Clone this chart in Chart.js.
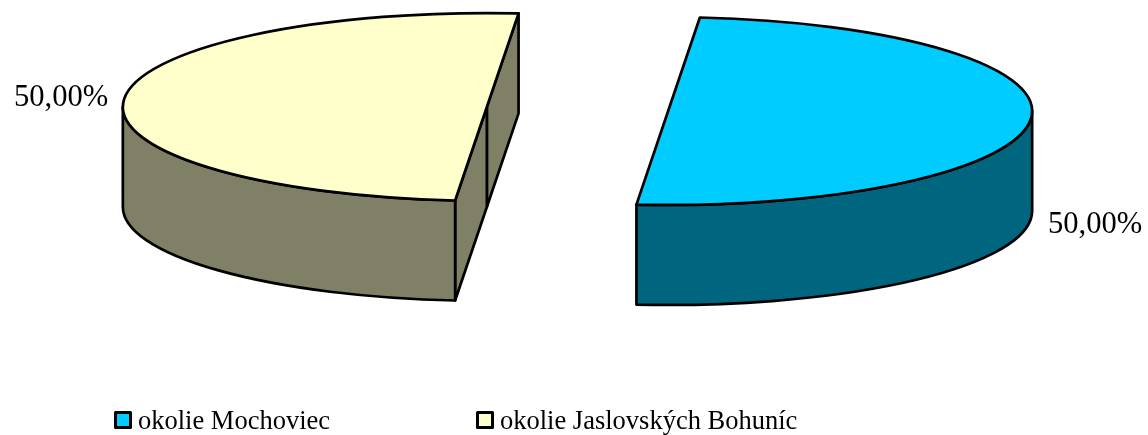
<!DOCTYPE html>
<html>
<head>
<meta charset="utf-8">
<title>okolie</title>
<style>
  html, body { margin: 0; padding: 0; background: #fff; }
  canvas { display: block; }
</style>
</head>
<body>
<canvas id="pie" width="1148" height="435"></canvas>
<script src="https://cdn.jsdelivr.net/npm/chart.js@4/dist/chart.umd.min.js"></script>
<script>
const categories = ['okolie Mochoviec', 'okolie Jaslovských Bohuníc'];
const shares = [50, 50];
const topColors = ['#00CCFF', '#FFFFCC'];
const sideColors = ['#006680', '#808066'];

const tilt = 0.258;      // flattening of the pie
const depth = 100;       // wall height
const explode = 91;      // how far each slice is pulled out
const pieCenterY = 109;
const outline = 2.7;
const serif = '"Liberation Serif", "Times New Roman", serif';

function shareText(v) {
  return v.toFixed(2).replace('.', ',') + '%';
}

// the slice in screen coords, after explode and tilt
function sliceGeom(arc) {
  const p = arc.getProps(['x', 'y', 'startAngle', 'endAngle', 'outerRadius'], true);
  return {
    cx: p.x,
    cy: pieCenterY + (p.y - pieCenterY) * tilt,
    r: p.outerRadius,
    a0: p.startAngle,
    a1: p.endAngle
  };
}

function rim(g, a) {
  return { x: g.cx + Math.cos(a) * g.r, y: g.cy + Math.sin(a) * g.r * tilt };
}

function drawWalls(ctx, g, color) {
  ctx.fillStyle = color;
  ctx.strokeStyle = '#000';
  ctx.lineWidth = outline;
  ctx.lineJoin = 'round';

  // flat cut faces, only the ones turned towards the viewer
  [[g.a1, g.a1 + Math.PI / 2], [g.a0, g.a0 - Math.PI / 2]].forEach(function (f) {
    if (Math.sin(f[1]) <= 0) return;
    const e = rim(g, f[0]);
    ctx.beginPath();
    ctx.moveTo(g.cx, g.cy);
    ctx.lineTo(e.x, e.y);
    ctx.lineTo(e.x, e.y + depth);
    ctx.lineTo(g.cx, g.cy + depth);
    ctx.closePath();
    ctx.fill();
    ctx.stroke();
  });

  // round outer wall, front half of the ellipse only
  for (let k = -1; k <= 1; k++) {
    const from = Math.max(g.a0, 2 * k * Math.PI);
    const to = Math.min(g.a1, 2 * k * Math.PI + Math.PI);
    if (to <= from) continue;
    ctx.beginPath();
    ctx.ellipse(g.cx, g.cy, g.r, g.r * tilt, 0, from, to);
    ctx.ellipse(g.cx, g.cy + depth, g.r, g.r * tilt, 0, to, from, true);
    ctx.closePath();
    ctx.fill();
    ctx.stroke();
  }
}

const tiltedPie = {
  id: 'tiltedPie',
  // the arc's own offset option also grows the radius, so move the elements instead
  afterDatasetsUpdate(chart) {
    chart.getDatasetMeta(0).data.forEach(function (arc) {
      const mid = (arc.startAngle + arc.endAngle) / 2;
      arc.x += Math.cos(mid) * explode;
      arc.y += Math.sin(mid) * explode;
    });
  },
  beforeDatasetsDraw(chart) {
    const ctx = chart.ctx;
    chart.getDatasetMeta(0).data.forEach(function (arc, i) {
      drawWalls(ctx, sliceGeom(arc), sideColors[i]);
    });
    ctx.save();
    ctx.translate(0, pieCenterY);
    ctx.scale(1, tilt);
    ctx.translate(0, -pieCenterY);
  },
  afterDatasetsDraw(chart) {
    const ctx = chart.ctx;
    ctx.restore();
    // outlines here, a stroke inside the squashed ctx would go thin at top and bottom
    chart.getDatasetMeta(0).data.forEach(function (arc) {
      const g = sliceGeom(arc);
      ctx.beginPath();
      ctx.moveTo(g.cx, g.cy);
      ctx.ellipse(g.cx, g.cy, g.r, g.r * tilt, 0, g.a0, g.a1);
      ctx.closePath();
      ctx.strokeStyle = '#000';
      ctx.lineWidth = outline;
      ctx.lineJoin = 'round';
      ctx.stroke();
    });
  },
  afterDraw(chart) {
    const ctx = chart.ctx;
    ctx.save();
    ctx.fillStyle = '#000';
    ctx.textBaseline = 'alphabetic';

    // percent labels
    ctx.font = '30.6px ' + serif;
    const labelSpots = [{ x: 1048, y: 233 }, { x: 14, y: 106 }];
    shares.forEach(function (v, i) {
      ctx.fillText(shareText(v), labelSpots[i].x, labelSpots[i].y);
    });

    // legend
    const legendX = [114, 476];
    ctx.font = '26.5px ' + serif;
    categories.forEach(function (name, i) {
      ctx.fillStyle = topColors[i];
      ctx.strokeStyle = '#000';
      ctx.lineWidth = 3;
      ctx.fillRect(legendX[i] + 1.5, 412.5, 15, 15);
      ctx.strokeRect(legendX[i] + 1.5, 412.5, 15, 15);
      ctx.fillStyle = '#000';
      ctx.fillText(name, legendX[i] + 24, 429);
    });
    ctx.restore();
  }
};

new Chart(document.getElementById('pie'), {
  type: 'pie',
  data: {
    labels: categories,
    datasets: [{
      data: shares,
      backgroundColor: topColors,
      borderWidth: 0,
      clip: false
    }]
  },
  options: {
    responsive: false,
    animation: false,
    rotation: 5,
    radius: 364,
    layout: { padding: { left: 7, bottom: 217 } },
    plugins: { legend: { display: false }, tooltip: { enabled: false } }
  },
  plugins: [tiltedPie]
});
</script>
</body>
</html>
